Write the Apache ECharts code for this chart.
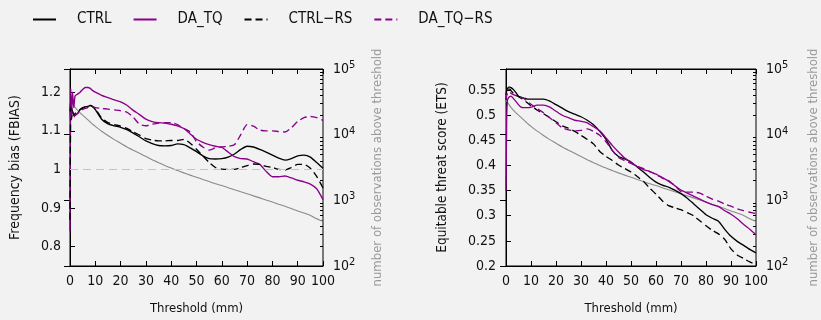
<!DOCTYPE html>
<html>
<head>
<meta charset="utf-8">
<script src="https://cdn.jsdelivr.net/npm/echarts@6/dist/echarts.min.js"></script>
<style>
html,body{margin:0;padding:0;background:#f2f2f2;}
#c{width:821px;height:320px;}
</style>
</head>
<body>
<div id="c"></div>
<script>
const thresholds = [0,0.3,0.6,1,1.5,2,3,4,5,6,7,8,9,10,12.5,15,17.5,20,22.5,25,27.5,30,32.5,35,37.5,40,42.5,45,47.5,50,52.5,55,57.5,60,62.5,65,67.5,70,72.5,75,77.5,80,82.5,85,87.5,90,92.5,95,97.5,100];

const fbiasCtrl = [1.15,1.18,1.16,1.15,1.14,1.14,1.145,1.155,1.16,1.162,1.163,1.165,1.162,1.155,1.13,1.118,1.113,1.109,1.103,1.094,1.084,1.074,1.067,1.062,1.061,1.062,1.066,1.064,1.056,1.046,1.035,1.028,1.027,1.028,1.032,1.04,1.052,1.06,1.058,1.052,1.045,1.037,1.029,1.024,1.028,1.035,1.037,1.032,1.018,1.003];
const fbiasDaTq = [0.84,1.21,1.14,1.2,1.16,1.19,1.195,1.2,1.207,1.212,1.212,1.21,1.204,1.2,1.192,1.186,1.18,1.175,1.166,1.153,1.142,1.13,1.124,1.121,1.12,1.117,1.113,1.106,1.092,1.078,1.07,1.064,1.06,1.057,1.045,1.033,1.028,1.027,1.02,1.013,0.995,0.981,0.981,0.983,0.978,0.972,0.968,0.962,0.95,0.922];
const fbiasCtrlRs = [0.87,1.16,1.13,1.15,1.14,1.145,1.15,1.155,1.158,1.162,1.164,1.166,1.163,1.157,1.133,1.121,1.116,1.112,1.106,1.097,1.089,1.08,1.076,1.074,1.074,1.075,1.075,1.078,1.068,1.052,1.035,1.018,1.005,1.001,1.0,1.0,1.005,1.01,1.014,1.013,1.008,1.005,1.0,0.999,1.005,1.013,1.013,1.003,0.982,0.952];
const fbiasDaTqRs = [1.15,1.13,1.15,1.14,1.135,1.14,1.145,1.15,1.155,1.158,1.16,1.163,1.162,1.16,1.158,1.156,1.154,1.152,1.148,1.135,1.117,1.113,1.117,1.12,1.121,1.121,1.116,1.106,1.097,1.072,1.058,1.05,1.056,1.058,1.06,1.064,1.09,1.116,1.112,1.102,1.1,1.1,1.098,1.097,1.108,1.124,1.134,1.137,1.134,1.127];

const etsCtrl = [0.54,0.55,0.553,0.556,0.556,0.555,0.551,0.545,0.538,0.536,0.534,0.533,0.532,0.532,0.532,0.532,0.528,0.521,0.514,0.507,0.502,0.497,0.49,0.481,0.468,0.452,0.43,0.418,0.413,0.407,0.397,0.387,0.376,0.367,0.361,0.357,0.351,0.344,0.335,0.324,0.313,0.302,0.295,0.289,0.273,0.259,0.249,0.241,0.233,0.226];
const etsDaTq = [0.35,0.5,0.53,0.535,0.537,0.538,0.533,0.527,0.521,0.516,0.515,0.515,0.515,0.516,0.52,0.52,0.516,0.508,0.5,0.495,0.49,0.488,0.485,0.477,0.469,0.455,0.44,0.427,0.415,0.406,0.398,0.392,0.388,0.383,0.376,0.369,0.36,0.351,0.345,0.339,0.333,0.327,0.322,0.318,0.31,0.303,0.294,0.283,0.273,0.262];
const etsCtrlRs = [0.53,0.545,0.55,0.552,0.552,0.549,0.544,0.54,0.537,0.534,0.531,0.527,0.523,0.519,0.51,0.503,0.495,0.487,0.479,0.474,0.468,0.46,0.452,0.443,0.428,0.418,0.41,0.401,0.394,0.387,0.378,0.368,0.355,0.343,0.33,0.32,0.316,0.312,0.306,0.3,0.29,0.28,0.271,0.264,0.253,0.234,0.222,0.215,0.208,0.203];
const etsDaTqRs = [0.53,0.54,0.545,0.547,0.546,0.544,0.541,0.539,0.537,0.535,0.534,0.53,0.526,0.522,0.513,0.505,0.495,0.485,0.475,0.471,0.469,0.47,0.473,0.468,0.46,0.447,0.43,0.416,0.41,0.404,0.398,0.394,0.388,0.382,0.375,0.37,0.36,0.348,0.347,0.347,0.345,0.339,0.333,0.329,0.323,0.319,0.314,0.31,0.307,0.304];

const obsCount = [34000,32000,31000,29500,27500,26000,23500,21500,19800,18300,16900,15600,14400,13400,11300,9700,8400,7400,6500,5800,5200,4650,4150,3750,3400,3100,2850,2620,2420,2250,2080,1930,1790,1680,1560,1450,1350,1260,1170,1090,1010,940,870,810,750,690,640,590,525,480];

const seriesNames = ['CTRL','DA_TQ','CTRL\u2212RS','DA_TQ\u2212RS'];
const xTicks = [0,10,20,30,40,50,60,70,80,90,100];
const fbiasTicks = [0.8,0.9,1,1.1,1.2];
const etsTicks = [0.2,0.25,0.3,0.35,0.4,0.45,0.5,0.55];
const countTicks = [100,1000,10000,100000];
const countMinorTicks = [200,300,400,500,600,700,800,900,2000,3000,4000,5000,6000,7000,8000,9000,20000,30000,40000,50000,60000,70000,80000,90000];

const FONT = "'DejaVu Sans Condensed', 'Liberation Sans', sans-serif";
const FS = 13;
const PURPLE = '#8b008b';
const GREY = '#8a8a8a';
const TXT = '#111';

function pairs(arr){ return thresholds.map((t,i)=>[t, arr[i]]); }

function xAxes(g){
  return [
    {gridIndex:g, type:'value', min:0, max:100, interval:10, position:'bottom',
     axisLine:{show:true,lineStyle:{color:'#000',width:1}},
     axisTick:{inside:true,length:5,lineStyle:{color:'#000'}},
     axisLabel:{margin:8,fontSize:14,color:TXT,fontFamily:FONT},
     splitLine:{show:false},
     name:'Threshold (mm)', nameLocation:'middle', nameGap:36,
     nameTextStyle:{fontSize:FS,color:TXT,fontFamily:FONT}},
    {gridIndex:g, type:'value', min:0, max:100, interval:10, position:'top',
     axisLine:{show:true,lineStyle:{color:'#000',width:1}},
     axisTick:{inside:true,length:5,lineStyle:{color:'#000'}},
     axisLabel:{show:false}, splitLine:{show:false}}
  ];
}
function logAxes(g, gap){
  return [
    {gridIndex:g, type:'log', logBase:10, min:100, max:100000, position:'right',
     axisLine:{show:true,lineStyle:{color:'#000',width:1}},
     axisTick:{inside:true,length:6,lineStyle:{color:'#000'},customValues:countTicks},
     axisLabel:{margin:10,fontSize:14,color:TXT,fontFamily:FONT,customValues:countTicks,
       formatter:function(v){return '10{sup|'+Math.round(Math.log10(v))+'}';},
       rich:{sup:{fontSize:11,color:TXT,fontFamily:FONT,verticalAlign:'bottom',padding:[0,0,8,0]}}},
     splitLine:{show:false},
     name:'number of observations above threshold', nameLocation:'middle', nameRotate:90, nameGap:gap,
     nameTextStyle:{fontSize:FS,color:'#9a9a9a',fontFamily:FONT}},
    {gridIndex:g, type:'log', logBase:10, min:100, max:100000, position:'right',
     axisLine:{show:false},
     axisTick:{inside:true,length:3,lineStyle:{color:'#000'},customValues:countMinorTicks},
     axisLabel:{show:false}, splitLine:{show:false}}
  ];
}

function lineSeries(name, data, xi, yi, color, dashed){
  return {name:name, type:'line', xAxisIndex:xi, yAxisIndex:yi, data:pairs(data),
    symbol:'none', smooth:0.2, animation:false,
    lineStyle:{color:color,width:1.35,type:dashed?[7,4]:'solid'},
    itemStyle:{color:color}};
}

const refLine = {silent:true,symbol:['none','none'],label:{show:false},
  lineStyle:{color:'#c4c4c4',type:[8,5],width:1},data:[{yAxis:1}]};

const option = {
  backgroundColor:'#f2f2f2',
  animation:false,
  legend:{top:12,left:32,padding:0,itemWidth:23,itemHeight:14,itemGap:21,data:seriesNames,
    itemStyle:{opacity:0},
    textStyle:{fontSize:15,color:TXT,fontFamily:FONT,padding:[0,0,0,16]}},
  grid:[
    {left:70,right:498,top:69,bottom:50,show:true,borderColor:'#000',borderWidth:1,backgroundColor:'transparent'},
    {left:506,right:64,top:69,bottom:50,show:true,borderColor:'#000',borderWidth:1,backgroundColor:'transparent'}
  ],
  xAxis:[].concat(xAxes(0), xAxes(1)),
  yAxis:[
    {gridIndex:0, type:'value', min:0.75, max:1.26, position:'left',
     axisLine:{show:true,lineStyle:{color:'#000',width:1}},
     axisTick:{inside:true,length:5,lineStyle:{color:'#000'},customValues:fbiasTicks},
     axisLabel:{margin:9,fontSize:14,color:TXT,fontFamily:FONT,customValues:fbiasTicks},
     splitLine:{show:false},
     name:'Frequency bias (FBIAS)', nameLocation:'middle', nameRotate:90, nameGap:48,
     nameTextStyle:{fontSize:14,color:TXT,fontFamily:FONT}}
  ].concat(logAxes(0, 48), [
    {gridIndex:1, type:'value', min:0.2, max:0.592, position:'left',
     axisLine:{show:true,lineStyle:{color:'#000',width:1}},
     axisTick:{inside:true,length:5,lineStyle:{color:'#000'},customValues:etsTicks},
     axisLabel:{margin:10,fontSize:14,color:TXT,fontFamily:FONT,customValues:etsTicks},
     splitLine:{show:false},
     name:'Equitable threat score (ETS)', nameLocation:'middle', nameRotate:90, nameGap:57,
     nameTextStyle:{fontSize:13.5,color:TXT,fontFamily:FONT}}
  ], logAxes(1, 51)),
  series:[
    {name:'count', type:'line', xAxisIndex:0, yAxisIndex:1, data:pairs(obsCount), symbol:'none', smooth:0.2,
     lineStyle:{color:GREY,width:1.1}, itemStyle:{color:GREY}, z:1},
    Object.assign(lineSeries(seriesNames[0], fbiasCtrl, 0, 0, '#000', false), {markLine:refLine}),
    lineSeries(seriesNames[1], fbiasDaTq, 0, 0, PURPLE, false),
    lineSeries(seriesNames[2], fbiasCtrlRs, 0, 0, '#000', true),
    lineSeries(seriesNames[3], fbiasDaTqRs, 0, 0, PURPLE, true),
    {name:'count2', type:'line', xAxisIndex:2, yAxisIndex:4, data:pairs(obsCount), symbol:'none', smooth:0.2,
     lineStyle:{color:GREY,width:1.1}, itemStyle:{color:GREY}, z:1},
    lineSeries(seriesNames[0], etsCtrl, 2, 3, '#000', false),
    lineSeries(seriesNames[1], etsDaTq, 2, 3, PURPLE, false),
    lineSeries(seriesNames[2], etsCtrlRs, 2, 3, '#000', true),
    lineSeries(seriesNames[3], etsDaTqRs, 2, 3, PURPLE, true)
  ]
};

const chart = echarts.init(document.getElementById('c'), null, {renderer:'canvas'});
chart.setOption(option);
</script>
</body>
</html>
